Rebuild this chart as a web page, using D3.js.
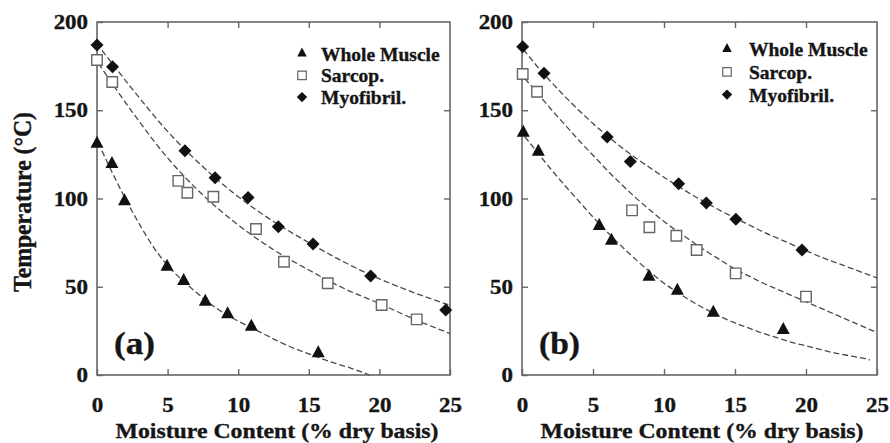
<!DOCTYPE html>
<html>
<head>
<meta charset="utf-8">
<script src="https://cdn.jsdelivr.net/npm/d3@7"></script>
<style>
  body { margin: 0; background: #fff; }
  svg { display: block; }
  svg text { font-family: 'Liberation Serif', Tinos, 'Times New Roman', 'DejaVu Serif', serif !important; font-weight: 700; fill: #151515; stroke: #151515; stroke-width: 0.35px; }
</style>
</head>
<body>
<svg id="chart" width="890" height="443"></svg>
<script>
// ---- Panel (a): measured points [moisture % db, temperature °C] ----
const wholeA = [[0, 131], [1.06, 119.5], [1.95, 98.5], [4.96, 61.4], [6.14, 53.3], [7.67, 41.5], [9.25, 34.4], [10.93, 27.4], [15.67, 12.3]];
const sarcA  = [[0, 178.5], [1.08, 166], [5.76, 110], [6.4, 103.3], [8.24, 101], [11.26, 82.7], [13.24, 64.2], [16.34, 52], [20.16, 39.7], [22.64, 31.5]];
const myoA   = [[0, 187], [1.1, 174.7], [6.23, 127], [8.36, 111.8], [10.7, 100.5], [12.84, 84], [15.3, 74.2], [19.38, 56.1], [24.7, 36.8]];

// ---- Panel (a): fitted curves ----
const wholeFitA = [[0.35, 127], [1, 116], [2, 100], [3, 85.5], [4, 72.5], [5, 62], [6, 54], [7, 47], [8, 40.5], [9, 35], [10, 30.5], [11, 26.5], [12, 22.5], [13, 18.5], [14, 15], [15, 12], [16, 9], [17, 6.3], [18, 3.8], [19.3, 0]];
const sarcFitA  = [[0.1, 176.5], [2.5, 149], [5, 123], [7.5, 102], [10, 85], [12.5, 71], [15, 59.5], [17.5, 49], [20, 40.5], [22.5, 31.5], [25, 23.5]];
const myoFitA   = [[0.35, 184], [2.5, 162], [5, 138], [7.5, 118], [10, 101], [12.5, 87], [15, 75], [17.5, 64], [20, 54.5], [22.5, 46.5], [25, 39.5]];

// ---- Panel (b): measured points ----
const wholeB = [[0.09, 137.3], [1.15, 126.5], [5.44, 84.4], [6.3, 76.1], [8.94, 55.7], [10.94, 47.8], [13.47, 35.3], [18.4, 25.5]];
const sarcB  = [[0.05, 170.5], [1.06, 160.5], [7.75, 93.3], [8.97, 83.7], [10.87, 78.9], [12.3, 70.8], [15.05, 57.6], [20, 44.4]];
const myoB   = [[0.05, 186], [1.55, 170.9], [6, 134.8], [7.63, 120.9], [11.03, 108.4], [12.98, 97.5], [15.06, 88.3], [19.72, 70.8]];

// ---- Panel (b): fitted curves ----
const wholeFitB = [[0.2, 135], [1, 127], [2, 117], [3, 107.5], [4, 98.5], [5, 89.5], [6, 81], [7, 73], [8, 65.5], [9, 58.5], [10, 52], [11, 46.5], [12, 41.5], [13, 37], [14, 33], [15, 29.5], [16, 26.5], [17, 23.5], [18, 21], [19, 18.5], [20, 16.5], [21, 14.5], [22, 12.5], [23, 11], [24, 9.5], [24.5, 8.5]];
const sarcFitB  = [[0.2, 168], [1, 160.5], [2, 151], [3, 142], [4, 133], [5, 124.5], [6, 116], [7, 108], [8, 100.5], [9, 93.5], [10, 87], [11, 81], [12, 75.5], [13, 70], [14, 65], [15, 60], [16, 56], [17, 52], [18, 48.5], [19, 45], [20, 41.5], [21, 38], [22, 34.5], [23, 31], [24, 27.5], [25, 24]];
const myoFitB   = [[0.1, 184.5], [1, 175.5], [2, 166.5], [3, 158], [4, 150], [5, 142.5], [6, 135.5], [7, 129], [8, 123], [9, 117.5], [10, 112], [11, 107], [12, 102], [13, 97.5], [14, 93], [15, 89], [16, 85], [17, 81], [18, 77.5], [19, 74], [20, 70.5], [21, 67], [22, 64], [23, 61], [24, 58], [25, 55]];

// ---- Axis ticks and labels ----
const xTicks = [0, 5, 10, 15, 20, 25];
const yTicks = [0, 50, 100, 150, 200];
const seriesNames = ["Whole Muscle", "Sarcop.", "Myofibril."];
const xTitle = "Moisture Content (% dry basis)";
const yTitle = "Temperature (°C)";

const FONT = "'Liberation Serif', Tinos, 'Times New Roman', 'DejaVu Serif', serif";
const svg = d3.select("#chart");

// Marker shapes, centred on the data point
function triPath(w, h) {
  return `M0,${-h * 2 / 3}L${w / 2},${h / 3}L${-w / 2},${h / 3}Z`;
}
function diamondPath(r) {
  return `M0,${-r}L${r},0L0,${r}L${-r},0Z`;
}
function squarePath(s) {
  const h = s / 2;
  return `M${-h},${-h}H${h}V${h}H${-h}Z`;
}

function drawPanel(opt) {
  const x = d3.scaleLinear().domain([0, 25]).range([opt.left, opt.right]);
  const y = d3.scaleLinear().domain([0, 200]).range([375, 22]);
  const g = svg.append("g");

  // frame
  g.append("rect")
    .attr("x", opt.left).attr("y", 22)
    .attr("width", opt.right - opt.left).attr("height", 353)
    .attr("fill", "none").attr("stroke", "#666").attr("stroke-width", 1.6);

  const tickStyle = sel => {
    sel.attr("font-family", FONT);
    sel.select(".domain").remove();
    sel.selectAll(".tick line").attr("stroke", "#666").attr("stroke-width", 1.4);
  };

  // bottom axis with labels (ticks point inward)
  g.append("g").attr("transform", "translate(0,375)")
    .call(d3.axisBottom(x).tickValues(xTicks).tickSize(-6).tickPadding(22).tickFormat(d3.format("d")))
    .call(tickStyle)
    .call(s => s.selectAll("text")
      .attr("font-size", 20.5).attr("fill", "#151515")
      .attr("transform", "scale(1.12,1)"));
  // top axis, ticks only
  g.append("g").attr("transform", "translate(0,22)")
    .call(d3.axisTop(x).tickValues(xTicks.slice(1, -1)).tickSize(-6).tickFormat(""))
    .call(tickStyle);
  // left axis with labels
  g.append("g").attr("transform", `translate(${opt.left},0)`)
    .call(d3.axisLeft(y).tickValues(yTicks).tickSize(-6).tickPadding(8).tickFormat(d3.format("d")))
    .call(tickStyle)
    .call(s => s.selectAll("text")
      .attr("font-size", 20.5).attr("fill", "#151515")
      .attr("transform", "scale(1.12,1)"));
  // right axis, ticks only
  g.append("g").attr("transform", `translate(${opt.right},0)`)
    .call(d3.axisRight(y).tickValues(yTicks.slice(1, -1)).tickSize(-6).tickFormat(""))
    .call(tickStyle);

  // fitted curves
  const line = d3.line().x(d => x(d[0])).y(d => y(d[1])).curve(d3.curveMonotoneX);
  [opt.wholeFit, opt.sarcFit, opt.myoFit].forEach(fit => {
    g.append("path").datum(fit)
      .attr("d", line)
      .attr("fill", "none").attr("stroke", "#4a4a4a")
      .attr("stroke-width", 1.3).attr("stroke-dasharray", "6,3");
  });

  // measured points
  g.append("g").selectAll("path").data(opt.sarc).join("path")
    .attr("d", squarePath(10.5))
    .attr("transform", d => `translate(${x(d[0])},${y(d[1])})`)
    .attr("fill", "#fff").attr("stroke", "#666").attr("stroke-width", 1.4);
  g.append("g").selectAll("path").data(opt.whole).join("path")
    .attr("d", triPath(13, 12))
    .attr("transform", d => `translate(${x(d[0])},${y(d[1])})`)
    .attr("fill", "#111");
  g.append("g").selectAll("path").data(opt.myo).join("path")
    .attr("d", diamondPath(6.5))
    .attr("transform", d => `translate(${x(d[0])},${y(d[1])})`)
    .attr("fill", "#111");

  // legend
  const lg = g.append("g").attr("font-family", FONT);
  const markers = [
    { d: triPath(9.5, 9), fill: "#111", stroke: "none" },
    { d: squarePath(8.5), fill: "#fff", stroke: "#666" },
    { d: diamondPath(5.2), fill: "#111", stroke: "none" }
  ];
  seriesNames.forEach((name, i) => {
    const cy = opt.legendY + i * opt.legendStep;
    lg.append("path").attr("d", markers[i].d)
      .attr("transform", `translate(${opt.legendX},${cy})`)
      .attr("fill", markers[i].fill).attr("stroke", markers[i].stroke).attr("stroke-width", 1.2);
    lg.append("text").attr("x", opt.legendX + opt.legendGap).attr("y", cy + 7)
      .attr("font-family", FONT).attr("font-size", 19.5).text(name);
  });

  // panel tag
  g.append("text").attr("x", opt.left + 17).attr("y", 354)
    .attr("font-family", FONT).attr("font-size", 31)
    .attr("textLength", 41).attr("lengthAdjust", "spacingAndGlyphs")
    .text(opt.tag);

  // x-axis title
  g.append("text").attr("x", opt.titleX).attr("y", 438)
    .attr("font-family", FONT).attr("text-anchor", "middle").attr("font-size", 22)
    .attr("textLength", 323).attr("lengthAdjust", "spacingAndGlyphs")
    .text(xTitle);
}

drawPanel({
  left: 97, right: 450, tag: "(a)", titleX: 277,
  whole: wholeA, sarc: sarcA, myo: myoA,
  wholeFit: wholeFitA, sarcFit: sarcFitA, myoFit: myoFitA,
  legendX: 302, legendY: 53.5, legendStep: 21.8, legendGap: 19
});
drawPanel({
  left: 522, right: 877, tag: "(b)", titleX: 702,
  whole: wholeB, sarc: sarcB, myo: myoB,
  wholeFit: wholeFitB, sarcFit: sarcFitB, myoFit: myoFitB,
  legendX: 727, legendY: 49, legendStep: 22.8, legendGap: 22
});

// y-axis title (left panel only)
svg.append("text")
  .attr("transform", "translate(31,202) rotate(-90) scale(1,1.1)")
  .attr("font-family", FONT)
  .attr("text-anchor", "middle").attr("font-size", 22.5)
  .attr("textLength", 180).attr("lengthAdjust", "spacingAndGlyphs")
  .text(yTitle);
</script>
</body>
</html>
